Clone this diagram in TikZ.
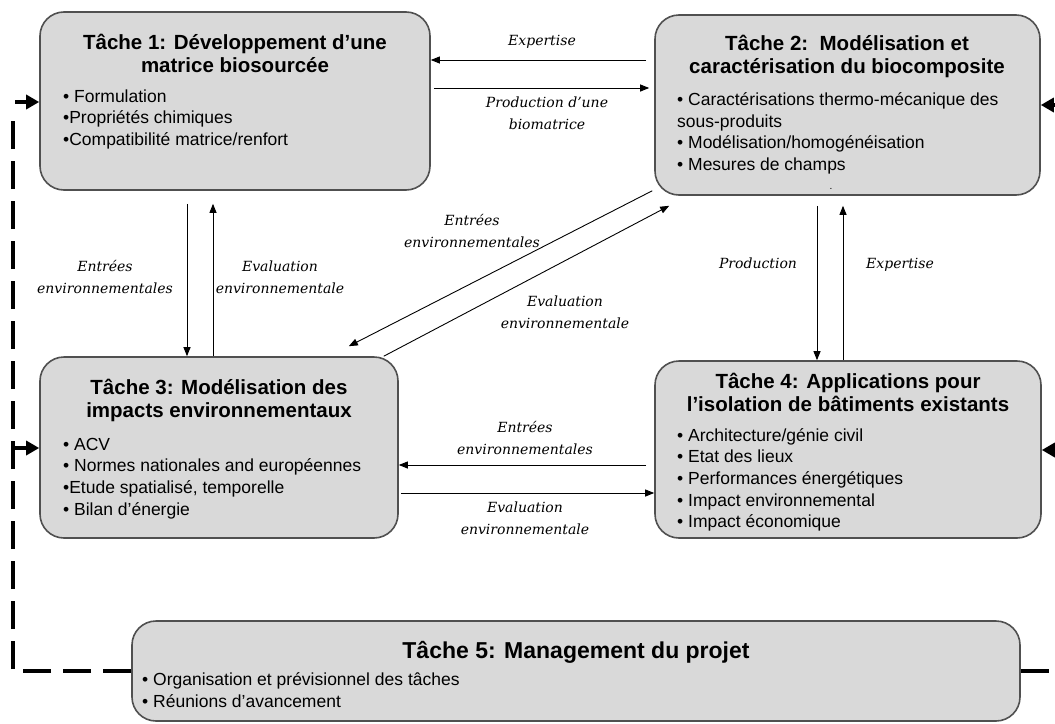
\documentclass[tikz,border=0pt]{standalone}
\usepackage{fontspec}
\setmainfont{Liberation Sans}
\newfontfamily\lblfont{DejaVu Serif}
\usetikzlibrary{arrows.meta}
\definecolor{boxfill}{RGB}{217,217,217}
\definecolor{boxline}{RGB}{80,80,80}
\begin{document}
\begin{tikzpicture}[x=1pt,y=-1pt,
  task/.style={draw=boxline,line width=1.6pt,fill=boxfill,rounded corners=24pt,inner sep=0pt},
  ttl/.style={font=\bfseries\fontsize{20.5}{23}\selectfont,align=center,anchor=base,inner sep=0pt},
  blt/.style={font=\fontsize{17.5}{21.6}\selectfont,align=left,anchor=base west,inner sep=0pt},
  lbl/.style={font=\lblfont\itshape\fontsize{14}{21.5}\selectfont,align=center,anchor=base,inner sep=0pt},
  arr/.style={line width=0.9pt,-{Triangle[length=9pt,width=7pt]}},
  big/.style={line width=4pt,-{Triangle[length=13pt,width=14pt]}},
  dsh/.style={line width=4pt,dash pattern=on 28pt off 12pt}]
\useasboundingbox (0,0) rectangle (1055,723);
\clip (0,0) rectangle (1055,723);

% boxes
\node[task,minimum width=390pt,minimum height=178pt] (b1) at (235,101) {};
\node[task,minimum width=385pt,minimum height=180pt] (b2) at (847.5,105) {};
\node[task,minimum width=358pt,minimum height=181pt] (b3) at (219,447.5) {};
\node[task,minimum width=386pt,minimum height=177pt] (b4) at (848,449.5) {};
\node[task,minimum width=888pt,minimum height=100pt] (b5) at (576,671) {};

% box texts (base anchor = baseline of the last line)
\node[ttl] (t1) at (235,72) {Tâche 1: Développement d'une\\matrice biosourcée};
\node[blt] (u1) at (63,145.2) {• Formulation\\•Propriétés chimiques\\•Compatibilité matrice/renfort};

\node[ttl] (t2) at (847,73) {Tâche 2:\ \ Modélisation et\\caractérisation du biocomposite};
\node[blt] (u2) at (677,170.5) {• Caractérisations thermo-mécanique des\\sous-produits\\• Modélisation/homogénéisation\\• Mesures de champs};
\node[font=\fontsize{10}{10}\selectfont,anchor=base,inner sep=0pt] (dt) at (831,189) {.};

\node[ttl] (t3) at (219,417) {Tâche 3: Modélisation des\\impacts environnementaux};
\node[blt] (u3) at (63,515) {• ACV\\• Normes nationales and européennes\\•Etude spatialisé, temporelle\\• Bilan d'énergie};

\node[ttl] (t4) at (848,411.5) {Tâche 4: Applications pour\\l’isolation de bâtiments existants};
\node[blt] (u4) at (677,527.7) {• Architecture/génie civil\\• Etat des lieux\\• Performances énergétiques\\• Impact environnemental\\• Impact économique};

\node[ttl,font=\bfseries\fontsize{23}{25}\selectfont] (t5) at (576,658) {Tâche 5: Management du projet};
\node[blt] (u5) at (142,707) {• Organisation et prévisionnel des tâches\\• Réunions d'avancement};

% connectors between tasks
\draw[arr,shorten <=8pt] (b2.west |- 0,60) -- (b1.east |- 0,60);
\draw[arr,shorten <=3pt,shorten >=5pt] (b1.east |- 0,88) -- (b2.west |- 0,88);
\draw[arr,shorten <=13pt] (187,0 |- b1.south) -- (187,0 |- b3.north);
\draw[arr,shorten >=13pt] (213,0 |- b3.north) -- (213,0 |- b1.south);
\coordinate (d1s) at ([xshift=-2pt,yshift=5pt]b2.south west);
\coordinate (d1e) at ([xshift=-50pt,yshift=10pt]b3.north east);
\coordinate (d2s) at ([xshift=-15pt]b3.north east);
\coordinate (d2e) at ([xshift=15pt,yshift=-10pt]b2.south west);
\draw[arr] (d1s) -- (d1e);
\draw[arr] (d2s) -- (d2e);
\draw[arr,shorten <=10pt] (817,0 |- b2.south) -- (817,0 |- b4.north);
\draw[arr,shorten >=10pt] (843,0 |- b4.north) -- (843,0 |- b2.south);
\draw[arr,shorten <=8pt] (b4.west |- 0,465) -- (b3.east |- 0,465);
\draw[arr,shorten <=2pt] (b3.east |- 0,493) -- (b4.west |- 0,493);

% management links
\coordinate (lc) at (13,671);
\coordinate (lt) at (13,110);
\draw[dsh] (b5.west) -- (lc) -- (lt);
\coordinate (a1) at (15,102);
\coordinate (a3) at (15,448);
\draw[big] (a1) -- (b1.west |- a1);
\draw[big] (a3) -- (b3.west |- a3);
\coordinate (rc) at (1062,671);
\draw[dsh] (b5.east) -- (rc);
\coordinate (r2) at (1062,105);
\coordinate (r4) at (1062,450);
\draw[big] (r2) -- (b2.east |- r2);
\draw[big] (r4) -- (b4.east |- r4);

% labels (base anchor = baseline of the last line)
\node[lbl] (l1) at (542,45) {Expertise};
\node[lbl] (l2) at (547,129) {Production d’une\\biomatrice};
\node[lbl] (l3) at (105,293) {Entrées\\environnementales};
\node[lbl] (l4) at (280,293) {Evaluation\\environnementale};
\node[lbl] (l5) at (472,247) {Entrées\\environnementales};
\node[lbl] (l6) at (565,328) {Evaluation\\environnementale};
\node[lbl] (l7) at (758,268) {Production};
\node[lbl] (l8) at (900,268) {Expertise};
\node[lbl] (l9) at (525,454) {Entrées\\environnementales};
\node[lbl] (l10) at (525,534) {Evaluation\\environnementale};
\end{tikzpicture}
\end{document}
